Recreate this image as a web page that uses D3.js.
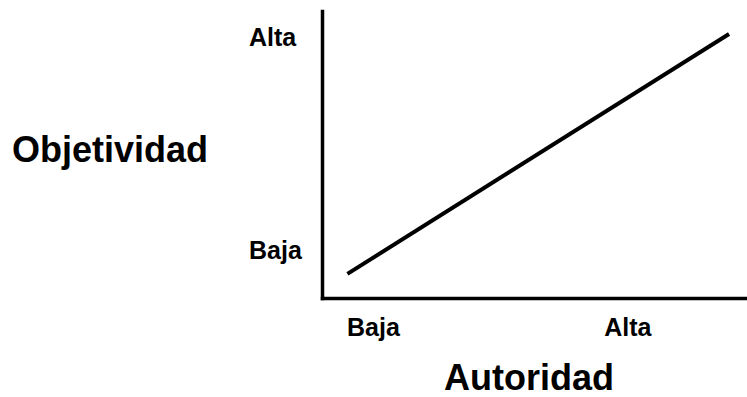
<!DOCTYPE html>
<html>
<head>
<meta charset="utf-8">
<script src="https://cdn.jsdelivr.net/npm/d3@7"></script>
<style>
  body { margin: 0; background: #fff; }
  text { font-family: "Liberation Sans", Arial, sans-serif; font-weight: bold; fill: #000; }
</style>
</head>
<body>
<div id="chart"></div>
<script>
var w = 747, h = 397;

// data
var xTickLabels = ["Baja", "Alta"];
var xTickValues = [12, 72];
var yTickLabels = ["Baja", "Alta"];
var yTickValues = [17, 91];
var lineX = [6, 96];
var lineY = [8.4, 92];
var xTitle = "Autoridad";
var yTitle = "Objetividad";

var svg = d3.select("#chart")
  .append("svg")
  .attr("width", w)
  .attr("height", h);

var xScale = d3.scaleLinear()
  .domain([0, 100])
  .range([322, 746]);

var yScale = d3.scaleLinear()
  .domain([0, 100])
  .range([298, 11]);

var xAxis = d3.axisBottom()
  .scale(xScale)
  .tickValues(xTickValues)
  .tickFormat(function(d, i) { return xTickLabels[i]; })
  .tickSize(0);

var yAxis = d3.axisLeft()
  .scale(yScale)
  .tickValues(yTickValues)
  .tickFormat(function(d, i) { return yTickLabels[i]; })
  .tickSize(0);

var gx = svg.append("g")
  .attr("transform", "translate(0," + yScale(0) + ")")
  .call(xAxis);

var gy = svg.append("g")
  .attr("transform", "translate(" + xScale(0) + ",0)")
  .call(yAxis);

svg.selectAll(".domain")
  .attr("stroke", "#000")
  .attr("stroke-width", 3.5)
  .attr("stroke-linecap", "square");

gx.selectAll("text")
  .attr("font-size", 25)
  .attr("dy", 0)
  .attr("y", 38);

gy.selectAll("text")
  .attr("font-size", 25)
  .attr("text-anchor", "start")
  .attr("x", 249 - xScale(0))
  .attr("dy", "0.36em");

var pts = lineX.map(function(d, i) { return [d, lineY[i]]; });

svg.append("path")
  .datum(pts)
  .attr("fill", "none")
  .attr("stroke", "#000")
  .attr("stroke-width", 4)
  .attr("d", d3.line()
    .x(function(d) { return xScale(d[0]); })
    .y(function(d) { return yScale(d[1]); }));

svg.append("text")
  .attr("x", 12)
  .attr("y", 162)
  .attr("font-size", 36)
  .text(yTitle);

svg.append("text")
  .attr("x", 529)
  .attr("y", 390)
  .attr("text-anchor", "middle")
  .attr("font-size", 36)
  .text(xTitle);
</script>
</body>
</html>
